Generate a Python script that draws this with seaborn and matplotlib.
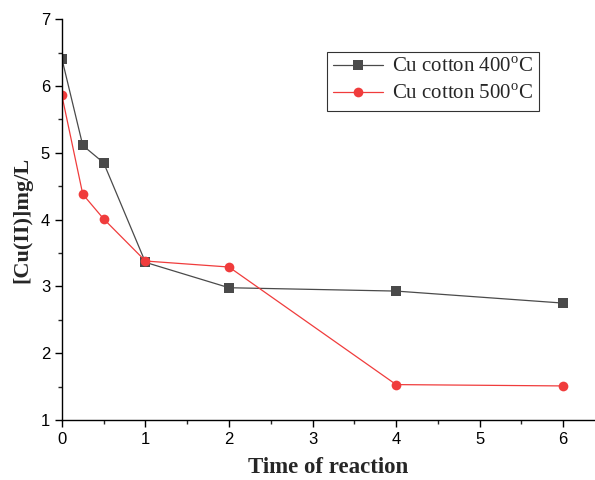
import matplotlib
matplotlib.use("Agg")
import matplotlib.pyplot as plt
import seaborn as sns
import pandas as pd
from matplotlib.ticker import MultipleLocator

time = [0, 0.25, 0.5, 1, 2, 4, 6]
cu400 = [6.41, 5.11, 4.85, 3.36, 2.98, 2.93, 2.75]
cu500 = [5.86, 4.38, 4.01, 3.38, 3.29, 1.53, 1.51]
labels = ["Cu cotton 400$^{\\rm o}$C", "Cu cotton 500$^{\\rm o}$C"]

sns.set_style("ticks")
plt.rcParams['font.family'] = ['Liberation Sans', 'DejaVu Sans']
plt.rcParams['mathtext.fontset'] = 'custom'
plt.rcParams['mathtext.rm'] = 'Liberation Serif'

df = pd.DataFrame({
    "time": time * 2,
    "value": cu400 + cu500,
    "series": [labels[0]] * len(time) + [labels[1]] * len(time),
})

fig = plt.figure(figsize=(5.95, 4.8), dpi=100)
ax = fig.add_axes([0.104, 0.125, 0.896, 0.835])

palette = {labels[0]: "#4a4a4a", labels[1]: "#f03c3c"}
sns.lineplot(data=df, x="time", y="value", hue="series", style="series",
             markers={labels[0]: "s", labels[1]: "o"}, dashes=False,
             palette=palette, markersize=7, linewidth=0.9,
             markeredgewidth=0, ax=ax)

ax.set_xlim(0, 6.38)
ax.set_ylim(1, 7)
ax.xaxis.set_major_locator(MultipleLocator(1))
ax.xaxis.set_minor_locator(MultipleLocator(0.5))
ax.yaxis.set_major_locator(MultipleLocator(1))
ax.yaxis.set_minor_locator(MultipleLocator(0.5))
ax.tick_params(which='major', direction='out', length=5, width=1, labelsize=12, colors='black')
ax.tick_params(which='minor', direction='out', length=3, width=1)
for s in ['top', 'right']:
    ax.spines[s].set_visible(False)
for s in ['left', 'bottom']:
    ax.spines[s].set_linewidth(1)
    ax.spines[s].set_color('black')

ax.set_xlabel("Time of reaction", fontfamily='Liberation Serif', fontweight='bold', fontsize=16.5, labelpad=7)
ax.set_ylabel("[Cu(II)]mg/L", fontfamily='Liberation Serif', fontweight='bold', fontsize=16, labelpad=6)

leg = ax.legend(loc='upper left', bbox_to_anchor=(0.478, 0.945), frameon=True, fancybox=False,
                edgecolor='black', prop={'family': 'Liberation Serif', 'size': 15},
                handlelength=2.4, borderpad=0.3, labelspacing=0.35, handletextpad=0.4)
leg.get_frame().set_linewidth(0.8)

fig.savefig("out.png", dpi=100)
